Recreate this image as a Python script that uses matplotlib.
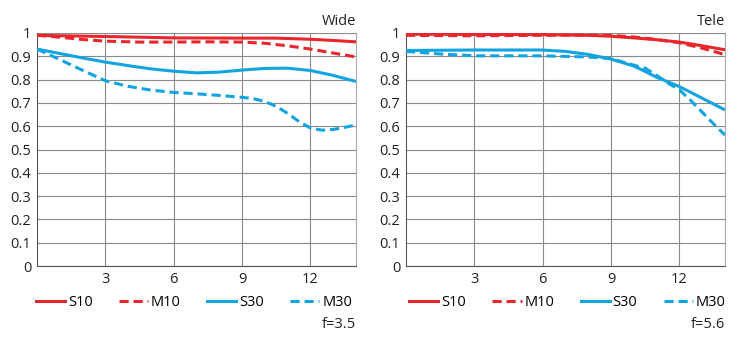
import matplotlib
matplotlib.use("Agg")
import matplotlib.pyplot as plt
from matplotlib.lines import Line2D

plt.rcParams['font.family'] = ['Open Sans', 'DejaVu Sans']

RED = '#e8262b'
BLUE = '#12a4e0'

# Wide (f=3.5)
wide_x_s10 = [0, 3, 6, 9, 10.5, 12, 13, 14]
wide_s10 = [0.99, 0.985, 0.979, 0.978, 0.978, 0.973, 0.968, 0.962]
wide_x_m10 = [0, 1, 2, 3, 4.5, 6, 7.5, 9, 10, 11, 12, 13, 14]
wide_m10 = [0.99, 0.982, 0.972, 0.965, 0.961, 0.961, 0.962, 0.961, 0.956, 0.945, 0.931, 0.914, 0.897]
wide_x_s30 = [0, 1, 2, 3, 4, 5, 6, 7, 8, 9, 10, 11, 12, 13, 14]
wide_s30 = [0.931, 0.912, 0.893, 0.875, 0.86, 0.846, 0.836, 0.829, 0.832, 0.841, 0.848, 0.849, 0.839, 0.818, 0.792]
wide_x_m30 = [0, 1, 2, 3, 4, 5, 6, 7, 8, 9, 9.5, 10, 10.5, 11, 11.5, 12, 12.5, 13, 13.5, 14]
wide_m30 = [0.931, 0.886, 0.84, 0.795, 0.771, 0.755, 0.745, 0.739, 0.732, 0.724, 0.718, 0.706, 0.685,
            0.655, 0.62, 0.592, 0.583, 0.586, 0.595, 0.605]

# Tele (f=5.6)
tele_x_s10 = [0, 3, 6, 8, 9, 10, 11, 12, 13, 14]
tele_s10 = [0.995, 0.994, 0.993, 0.99, 0.986, 0.979, 0.971, 0.961, 0.945, 0.928]
tele_x_m10 = [0, 3, 6, 8, 9, 10, 11, 12, 13, 14]
tele_m10 = [0.99, 0.988, 0.99, 0.991, 0.99, 0.983, 0.972, 0.958, 0.935, 0.907]
tele_x_s30 = [0, 3, 6, 7, 8, 9, 10, 10.5, 11, 11.5, 12, 13, 14]
tele_s30 = [0.925, 0.927, 0.927, 0.921, 0.908, 0.888, 0.858, 0.835, 0.81, 0.79, 0.77, 0.72, 0.67]
tele_x_m30 = [0, 1.5, 3, 6, 8, 9, 10, 10.5, 11, 11.5, 12, 12.5, 13, 13.5, 14]
tele_m30 = [0.921, 0.91, 0.902, 0.902, 0.897, 0.89, 0.862, 0.849, 0.818, 0.785, 0.756, 0.71, 0.66, 0.61, 0.562]

titles = ['Wide', 'Tele']
apertures = ['f=3.5', 'f=5.6']
xticks = [3, 6, 9, 12]
yticks = [0, 0.1, 0.2, 0.3, 0.4, 0.5, 0.6, 0.7, 0.8, 0.9, 1]
ytick_labels = ['0', '0.1', '0.2', '0.3', '0.4', '0.5', '0.6', '0.7', '0.8', '0.9', '1']
legend_labels = ['S10', 'M10', 'S30', 'M30']

fig = plt.figure(figsize=(7.4, 3.46), dpi=100)
W, H = 740, 346
axes_px = [(37, 356), (406, 725)]
legend_x = [-0.022, -0.008]
top_px, bot_px = 33, 266

panels = [
    [(wide_x_s10, wide_s10), (wide_x_m10, wide_m10), (wide_x_s30, wide_s30), (wide_x_m30, wide_m30)],
    [(tele_x_s10, tele_s10), (tele_x_m10, tele_m10), (tele_x_s30, tele_s30), (tele_x_m30, tele_m30)],
]
styles = [(RED, '-'), (RED, (0, (3, 1.6))), (BLUE, '-'), (BLUE, (0, (3, 1.6)))]

for i, (l, r) in enumerate(axes_px):
    ax = fig.add_axes([l / W, 1 - bot_px / H, (r - l) / W, (bot_px - top_px) / H])
    for (xs, ys), (c, ls) in zip(panels[i], styles):
        ax.plot(xs, ys, color=c, linestyle=ls, lw=2.2, solid_capstyle='butt', zorder=3)
    ax.set_xlim(0, 14)
    ax.set_ylim(0, 1)
    ax.set_xticks(xticks)
    ax.set_yticks(yticks)
    ax.set_yticklabels(ytick_labels)
    ax.grid(True, color='#8a8a8a', lw=0.8)
    ax.tick_params(length=0, labelsize=10.5, colors='#222222', pad=4)
    ax.spines['top'].set_visible(False)
    ax.spines['right'].set_color('#aaaaaa')
    ax.spines['left'].set_color('#555555')
    ax.spines['bottom'].set_color('#555555')
    ax.set_title(titles[i], loc='right', fontsize=10.5, pad=6, color='#222222')
    handles = [Line2D([], [], color=c, linestyle=ls, lw=2.2) for c, ls in styles]
    ax.legend(handles, legend_labels, loc='upper left', bbox_to_anchor=(legend_x[i], -0.1),
              ncol=4, frameon=False, fontsize=10.5, handlelength=2.0, handletextpad=0.2,
              columnspacing=1.8, borderaxespad=0)
    fig.text(r / W, 1 - 324 / H, apertures[i], ha='right', va='center', fontsize=10.5, color='#222222')

fig.savefig('out.png', dpi=100)
